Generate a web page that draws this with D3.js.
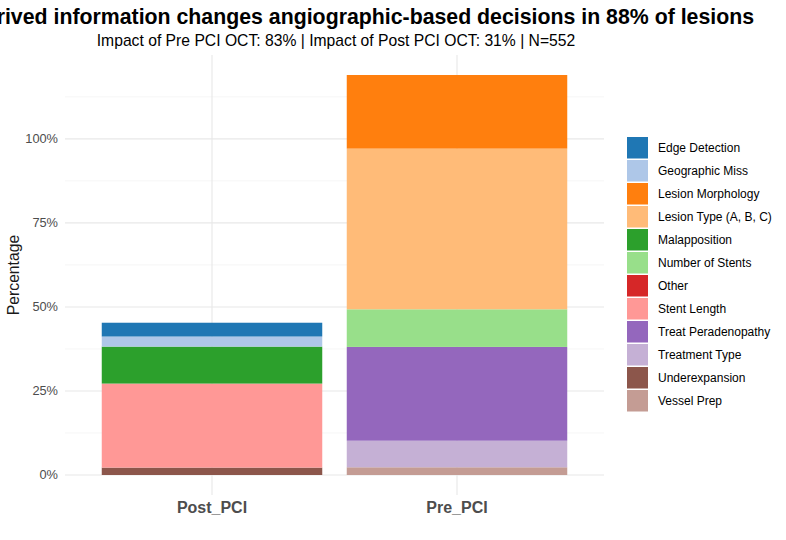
<!DOCTYPE html>
<html>
<head>
<meta charset="utf-8">
<script src="https://cdn.jsdelivr.net/npm/d3@7"></script>
<style>
  html, body { margin: 0; padding: 0; background: #fff; }
  svg { display: block; font-family: "Liberation Sans", Arial, sans-serif; }
</style>
</head>
<body>
<svg id="chart" width="786" height="540"></svg>
<script>
const titleText = "OCT-derived information changes angiographic-based decisions in 88% of lesions";
const subtitleText = "Impact of Pre PCI OCT: 83% | Impact of Post PCI OCT: 31% | N=552";
const categories = ["Post_PCI", "Pre_PCI"];
const reasons = ["Edge Detection", "Geographic Miss", "Lesion Morphology", "Lesion Type (A, B, C)",
  "Malapposition", "Number of Stents", "Other", "Stent Length", "Treat Peradenopathy",
  "Treatment Type", "Underexpansion", "Vessel Prep"];
const colors = ["#1f77b4", "#aec7e8", "#ff7f0e", "#ffbb78", "#2ca02c", "#98df8a",
  "#d62728", "#ff9896", "#9467bd", "#c5b0d5", "#8c564b", "#c49c94"];
const postValues = [4.1, 3.0, 0, 0, 11.0, 0, 0, 25.0, 0, 0, 2.2, 0];
const preValues  = [0, 0, 21.9, 47.8, 0, 11.2, 0, 0, 27.9, 7.9, 0, 2.3];
const yTicks = [0, 25, 50, 75, 100];
const yMinor = [12.5, 37.5, 62.5, 87.5, 112.5];

const svg = d3.select("#chart");
const panel = { left: 65, right: 604, top: 55, bottom: 495 };

const rows = categories.map((c, i) => {
  const r = { category: c };
  const vals = i === 0 ? postValues : preValues;
  reasons.forEach((k, j) => r[k] = vals[j]);
  return r;
});

// ggplot stacks first level on top -> bottom key is last reason
const stackKeys = reasons.slice().reverse();
const series = d3.stack().keys(stackKeys)(rows);
const maxTotal = d3.max(series[series.length - 1], d => d[1]);
const pad = maxTotal * 0.05;

const x = d3.scaleBand().domain(categories).range([panel.left, panel.right])
  .paddingInner(0.1).paddingOuter(0.15);
const y = d3.scaleLinear().domain([-pad, maxTotal + pad]).range([panel.bottom, panel.top]);
const color = d3.scaleOrdinal().domain(reasons).range(colors);

// grid
const g = svg.append("g");
g.selectAll(".minor").data(yMinor.filter(v => y(v) >= panel.top)).join("line")
  .attr("x1", panel.left).attr("x2", panel.right)
  .attr("y1", d => y(d)).attr("y2", d => y(d))
  .attr("stroke", "#f0f0f0").attr("stroke-width", 0.6);
g.selectAll(".major").data(yTicks).join("line")
  .attr("x1", panel.left).attr("x2", panel.right)
  .attr("y1", d => y(d)).attr("y2", d => y(d))
  .attr("stroke", "#e8e8e8").attr("stroke-width", 1.1);
g.selectAll(".vmajor").data(categories).join("line")
  .attr("x1", d => x(d) + x.bandwidth() / 2).attr("x2", d => x(d) + x.bandwidth() / 2)
  .attr("y1", panel.top).attr("y2", panel.bottom)
  .attr("stroke", "#e8e8e8").attr("stroke-width", 1.1);

// bars
svg.append("g").selectAll("g").data(series).join("g")
  .attr("fill", d => color(d.key))
  .selectAll("rect").data(d => d).join("rect")
  .attr("x", d => x(d.data.category))
  .attr("width", x.bandwidth())
  .attr("y", d => y(d[1]))
  .attr("height", d => y(d[0]) - y(d[1]));

// y axis labels
svg.append("g").selectAll("text").data(yTicks).join("text")
  .attr("x", 58).attr("y", d => y(d)).attr("dy", "0.35em")
  .attr("text-anchor", "end").attr("font-size", 12.8).attr("fill", "#4d4d4d")
  .text(d => d + "%");

// x axis labels
svg.append("g").selectAll("text").data(categories).join("text")
  .attr("x", d => x(d) + x.bandwidth() / 2).attr("y", 513)
  .attr("text-anchor", "middle").attr("font-size", 16).attr("font-weight", "bold")
  .attr("fill", "#4d4d4d").text(d => d);

// y title
svg.append("text")
  .attr("transform", `translate(19, ${(panel.top + panel.bottom) / 2}) rotate(-90)`)
  .attr("text-anchor", "middle").attr("font-size", 15.7).attr("fill", "#1a1a1a")
  .text("Percentage");

// titles
const cx = (panel.left + panel.right) / 2;
svg.append("text").attr("x", cx + 3).attr("y", 23.5).attr("text-anchor", "middle")
  .attr("font-size", 21.3).attr("font-weight", "bold").attr("fill", "#000").text(titleText);
svg.append("text").attr("x", cx + 1.5).attr("y", 46).attr("text-anchor", "middle")
  .attr("font-size", 15.7).attr("fill", "#000").text(subtitleText);

// legend
const leg = svg.append("g").attr("transform", "translate(627, 137)");
const item = leg.selectAll("g").data(reasons).join("g")
  .attr("transform", (d, i) => `translate(0, ${i * 23})`);
item.append("rect").attr("width", 21).attr("height", 21.5).attr("fill", d => color(d));
item.append("text").attr("x", 31).attr("y", 11).attr("dy", "0.35em")
  .attr("font-size", 12).attr("fill", "#000").text(d => d);
</script>
</body>
</html>
